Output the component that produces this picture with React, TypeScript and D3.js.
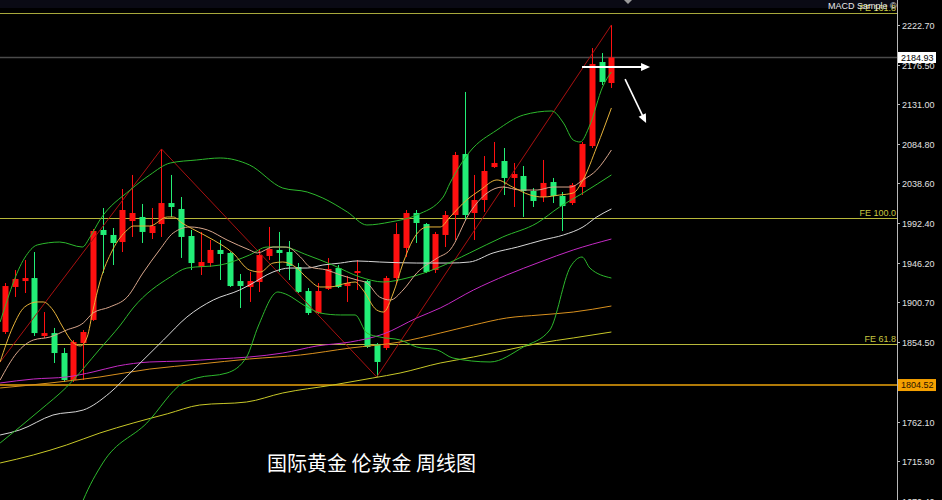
import React from 'react';
import * as d3 from 'd3';

const W = 942;
const H = 500;

// Weekly candles (price units)
const opens = [1866.1,1918.4,1925.3,1928.8,1861.5,1864.9,1841.7,1810.4,1853.3,1880.1,1984.6,1978.8,1970.6,1995.0,1999.7,1981.1,1991.5,2015.9,2009.0,1977.6,1941.6,1946.2,1961.4,1957.9,1925.3,1918.4,1924.2,1954.4,1961.4,1959.0,1941.6,1913.7,1888.2,1916.1,1940.4,1919.5,1934.6,1925.3,1852.2,1847.5,1928.8,1963.7,2004.3,1991.5,1938.1,1978.8,2002.0,2072.8,2004.3,2019.4,2057.7,2064.7,2045.0,2047.3,2029.9,2022.9,2040.3,2024.1,2015.9,2034.5,2082.1,2179.7,2155.3];
const highs = [1923.0,1938.1,1949.7,1959.0,1889.3,1870.8,1847.5,1856.8,1868.4,1985.7,2010.1,1986.9,2032.2,2048.5,2014.8,2010.1,2078.7,2048.5,2022.9,1984.6,1982.3,1973.0,1973.0,1959.0,1933.5,1935.8,1962.5,1988.1,1982.3,1971.8,1946.2,1917.2,1923.0,1952.0,1943.9,1931.2,1949.7,1926.5,1853.3,1931.2,1992.7,2007.8,2007.8,1992.7,1982.3,2006.6,2075.2,2144.9,2048.5,2070.5,2086.8,2079.8,2062.4,2058.9,2033.3,2065.9,2045.0,2028.7,2039.2,2086.8,2195.9,2190.1,2222.7];
const lows = [1863.8,1906.8,1911.4,1861.5,1859.2,1830.1,1808.0,1808.0,1810.4,1878.9,1934.6,1943.9,1959.0,1976.5,1969.5,1974.1,1976.5,1999.7,1952.1,1938.1,1932.3,1941.6,1926.5,1918.4,1894.0,1901.0,1912.6,1949.7,1935.8,1926.5,1911.4,1885.9,1887.0,1914.9,1917.2,1901.0,1914.9,1847.5,1813.9,1845.2,1923.0,1953.2,1969.5,1934.6,1934.6,1964.8,1973.0,1996.2,1973.0,2005.5,2056.6,2025.2,2011.3,1999.7,2011.3,2017.1,2015.9,1983.4,2013.6,2025.2,2079.8,2153.0,2149.5];
const closes = [1919.5,1927.7,1928.8,1864.9,1864.9,1841.7,1810.4,1854.5,1866.1,1983.4,1978.8,1969.5,2007.8,2004.3,1982.3,1989.2,2015.9,2011.3,1976.5,1946.2,1947.4,1961.4,1956.7,1919.5,1919.5,1925.3,1955.5,1962.5,1957.9,1942.8,1912.6,1888.2,1913.7,1939.3,1918.4,1923.0,1936.9,1848.7,1831.3,1928.8,1979.9,2004.3,1992.7,1935.8,1979.9,2002.0,2071.7,2002.0,2019.4,2053.1,2062.4,2045.0,2049.6,2029.9,2018.3,2039.2,2024.1,2012.4,2036.8,2084.5,2177.4,2156.5,2184.93];

// Indicator lines: [week index, price]
const ma5: [number, number][] = [[-0.5,1831.3],[0.8,1871.9],[2.0,1895.1],[3.3,1901.0],[3.9,1901.0],[4.9,1891.7],[5.9,1871.9],[6.9,1854.5],[7.7,1849.9],[8.4,1860.3],[9.0,1891.7],[9.7,1924.2],[11.0,1961.4],[12.5,1984.6],[13.1,1989.2],[14.8,1989.2],[16.6,1999.7],[17.2,1999.7],[18.1,1992.7],[19.2,1985.7],[21.3,1973.0],[23.3,1957.9],[25.0,1938.1],[26.1,1935.8],[27.4,1946.2],[28.4,1947.4],[29.7,1941.6],[30.9,1928.8],[32.2,1918.4],[33.2,1918.4],[35.0,1923.0],[35.8,1924.2],[36.6,1914.9],[38.0,1891.7],[38.7,1889.3],[39.7,1911.4],[40.7,1946.2],[41.7,1973.0],[43.2,1988.1],[44.5,1988.1],[45.5,1999.7],[47.2,2019.4],[48.6,2031.0],[50.3,2042.7],[51.9,2034.5],[53.7,2025.2],[55.0,2022.9],[56.7,2025.2],[58.1,2027.6],[59.1,2042.7],[60.5,2081.0],[62.0,2126.3]];
const ma10: [number, number][] = [[-0.5,1810.4],[1.2,1841.7],[2.9,1856.8],[4.6,1860.3],[6.3,1868.4],[8.0,1876.6],[9.0,1888.2],[10.7,1895.1],[12.5,1906.8],[14.1,1934.6],[15.8,1961.4],[17.2,1981.1],[18.9,1988.1],[20.7,1984.6],[22.7,1973.0],[25.0,1961.4],[25.8,1957.9],[27.4,1964.8],[28.8,1964.8],[30.2,1953.2],[31.2,1941.6],[32.9,1938.1],[34.3,1932.3],[36.0,1926.5],[37.0,1923.0],[38.3,1906.8],[39.4,1903.3],[40.7,1914.9],[42.1,1934.6],[44.2,1952.0],[45.5,1961.4],[47.5,2004.3],[49.3,2027.6],[50.9,2034.5],[52.7,2031.0],[54.4,2031.0],[56.0,2034.5],[57.8,2034.5],[59.1,2042.7],[60.5,2054.3],[62.0,2077.5]];
const bbUpper: [number, number][] = [[-0.5,1877.7],[2.0,1952.0],[3.3,1967.2],[5.6,1970.6],[7.9,1964.8],[8.7,1976.5],[9.7,1996.2],[12.8,2031.0],[14.8,2048.5],[16.9,2062.4],[19.6,2065.9],[22.0,2068.2],[25.0,2060.1],[28.4,2033.3],[30.9,2028.7],[32.5,2021.7],[35.0,2005.5],[37.0,1990.4],[39.4,1993.9],[42.1,2002.0],[44.8,2022.9],[45.5,2039.2],[47.5,2075.2],[50.3,2100.7],[53.0,2118.1],[55.9,2122.8],[57.1,2108.8],[58.1,2089.1],[58.8,2086.8],[59.8,2106.5],[61.1,2150.7],[62.0,2168.1]];
const bbMiddle: [number, number][] = [[-0.5,1737.2],[3.6,1775.5],[6.3,1802.2],[9.7,1846.4],[11.8,1874.2],[13.1,1894.0],[16.9,1930.0],[18.6,1940.4],[22.0,1943.9],[25.0,1955.5],[26.8,1964.8],[28.4,1964.8],[30.9,1955.5],[33.5,1943.9],[36.3,1930.0],[38.7,1924.2],[41.1,1928.8],[44.2,1940.4],[47.5,1957.9],[50.9,1976.5],[54.4,1992.7],[56.7,2011.3],[59.1,2027.6],[62.0,2048.5]];
const bbLower: [number, number][] = [[7.2,1647.8],[8.0,1671.0],[10.0,1714.0],[14.5,1760.4],[18.2,1806.9],[19.6,1812.7],[22.7,1818.5],[24.7,1837.1],[25.9,1873.1],[27.9,1912.6],[28.4,1911.4],[30.9,1895.1],[32.2,1888.2],[34.3,1885.9],[35.8,1885.9],[37.0,1864.9],[38.3,1860.3],[40.4,1856.8],[42.1,1848.7],[44.2,1845.2],[45.8,1835.9],[49.6,1831.3],[53.0,1848.7],[55.7,1868.4],[57.8,1941.6],[59.0,1953.2],[59.8,1940.4],[62.0,1928.8]];
const maWhite: [number, number][] = [[-0.5,1746.5],[1.5,1752.3],[4.9,1769.7],[8.0,1775.5],[10.7,1795.3],[13.1,1822.0],[16.2,1856.8],[18.6,1883.5],[21.3,1903.3],[24.0,1914.9],[25.0,1920.7],[27.4,1935.8],[29.1,1940.4],[30.9,1940.4],[32.5,1943.9],[34.3,1946.2],[36.0,1948.6],[38.3,1947.4],[42.1,1946.2],[45.5,1946.2],[47.5,1947.4],[49.9,1957.9],[52.4,1964.8],[55.0,1973.0],[57.1,1978.8],[59.1,1988.1],[60.5,1999.7],[62.0,2009.0]];
const maMagenta: [number, number][] = [[-0.5,1806.9],[2.9,1811.5],[6.3,1813.9],[9.0,1819.7],[11.5,1826.6],[14.8,1831.3],[18.2,1832.4],[21.7,1834.8],[25.0,1837.1],[28.4,1841.7],[31.9,1849.9],[35.3,1854.5],[38.7,1863.8],[42.1,1882.4],[44.5,1894.0],[47.9,1914.9],[51.3,1932.3],[54.7,1947.4],[58.1,1961.4],[62.0,1974.1]];
const maOrange: [number, number][] = [[-0.5,1801.1],[4.6,1806.9],[9.7,1813.9],[14.8,1823.1],[19.9,1828.9],[25.0,1834.8],[30.2,1839.4],[35.3,1847.5],[40.4,1854.5],[44.5,1864.9],[47.9,1874.2],[51.3,1882.4],[54.7,1885.9],[58.1,1889.3],[62.0,1896.3]];
const maYellow: [number, number][] = [[-0.5,1714.0],[2.9,1723.3],[6.3,1734.9],[9.7,1748.8],[13.1,1760.4],[16.6,1771.1],[19.9,1781.3],[24.7,1784.8],[28.4,1795.3],[33.5,1804.5],[37.6,1812.7],[40.4,1818.5],[44.5,1830.1],[47.9,1837.1],[51.3,1845.2],[54.7,1853.3],[58.1,1859.2],[62.0,1866.1]];
const zigzag: [number, number][] = [[-0.55,1830.5],[16,2078.7],[38,1813.9],[62,2222.7]];

// Horizontal levels
const feLabels = ['FE 161.8', 'FE 100.0', 'FE 61.8'];
const feValues = [2236.4, 1998.6, 1852.0];
const currentPrice = 2184.93;
const supportPrice = 1804.52;

// Axis tick labels
const tickLabels = ['2222.70','2176.50','2131.00','2084.80','2038.60','1992.40','1946.20','1900.70','1854.50','1808.30','1762.10','1715.90','1670.40'];

const title = '国际黄金 伦敦金 周线图';

export default function App() {
  const plotRight = 897;
  const x = d3.scaleLinear().domain([0, 62]).range([5, 611.4]);
  const y = d3.scaleLinear().domain([1671.0, 2251.7]).range([H, 0]);
  const line = d3.line<[number, number]>().x(d => x(d[0])).y(d => y(d[1])).curve(d3.curveMonotoneX);
  const lineStraight = d3.line<[number, number]>().x(d => x(d[0])).y(d => y(d[1]));

  const bw = 6;
  const axisFont = '"Liberation Sans", Arial, sans-serif';

  const lines: { data: [number, number][]; color: string; w?: number }[] = [
    { data: maYellow, color: '#c8c828' },
    { data: maOrange, color: '#d8901e' },
    { data: maMagenta, color: '#c42ac4' },
    { data: maWhite, color: '#d6d6d6' },
    { data: bbLower, color: '#2db82d' },
    { data: bbMiddle, color: '#2db82d' },
    { data: bbUpper, color: '#2db82d' },
    { data: ma10, color: '#d8a68c' },
    { data: ma5, color: '#e6b23a' },
  ];

  // arrows in data coordinates
  const arrowH = { x1: 59.0, x2: 65.95, p: 2173.9 };
  const arrowD = { x1: 63.4, p1: 2159.9, x2: 65.55, p2: 2108.8 };
  const ax2 = x(arrowD.x2), ay2 = y(arrowD.p2), ax1 = x(arrowD.x1), ay1 = y(arrowD.p1);
  const ang = Math.atan2(ay2 - ay1, ax2 - ax1);
  const hl = 9, hw = 4;
  const headD = [
    [ax2, ay2],
    [ax2 - hl * Math.cos(ang) + hw * Math.sin(ang), ay2 - hl * Math.sin(ang) - hw * Math.cos(ang)],
    [ax2 - hl * Math.cos(ang) - hw * Math.sin(ang), ay2 - hl * Math.sin(ang) + hw * Math.cos(ang)],
  ].map(p => p.join(',')).join(' ');
  const hx2 = x(arrowH.x2), hy = y(arrowH.p);

  return (
    <div style={{ position: 'absolute', left: 0, top: 0 }}>
      <svg width={W} height={H} style={{ display: 'block', background: '#000' }}>
        <rect x={0} y={0} width={W} height={H} fill="#000" />
        <rect x={0} y={0} width={plotRight} height={8} fill="#0a0a14" />
        <g>
          {/* horizontal levels */}
          {feValues.map((v, i) => (
            <line key={'fe' + i} x1={0} x2={plotRight} y1={Math.round(y(v)) + 0.5} y2={Math.round(y(v)) + 0.5} stroke={i === 0 ? '#a8a83c' : '#b8b83a'} strokeWidth={1.2} />
          ))}
          <line x1={0} x2={plotRight} y1={y(currentPrice)} y2={y(currentPrice)} stroke="#4a4a4a" strokeWidth={1.6} />
          <line x1={0} x2={plotRight} y1={y(supportPrice)} y2={y(supportPrice)} stroke="#b07a08" strokeWidth={2} />
        </g>
        <g>
          {closes.map((c, i) => {
            const o = opens[i];
            const up = c >= o;
            const col = up ? '#ff1010' : '#22ee77';
            const cx = Math.round(x(i));
            const top = y(Math.max(o, c));
            const bot = y(Math.min(o, c));
            return (
              <g key={i}>
                <line x1={cx + 0.5} x2={cx + 0.5} y1={y(highs[i])} y2={y(lows[i])} stroke={col} strokeWidth={1} />
                <rect x={cx - bw / 2 + 0.5} y={top} width={bw} height={Math.max(1, bot - top)} fill={col} />
              </g>
            );
          })}
        </g>
        <path d={lineStraight(zigzag) || ''} fill="none" stroke="#a81010" strokeWidth={1} />
        <g>
          {lines.map((l, i) => (
            <path key={i} d={line(l.data) || ''} fill="none" stroke={l.color} strokeWidth={l.w || 1} />
          ))}
        </g>
        {/* arrows */}
        <line x1={x(arrowH.x1)} x2={hx2 - 6} y1={hy} y2={hy} stroke="#fff" strokeWidth={2} />
        <polygon points={`${hx2},${hy} ${hx2 - 9},${hy - 4} ${hx2 - 9},${hy + 4}`} fill="#fff" />
        <line x1={ax1} y1={ay1} x2={ax2 - 6 * Math.cos(ang)} y2={ay2 - 6 * Math.sin(ang)} stroke="#fff" strokeWidth={1.6} />
        <polygon points={headD} fill="#fff" />
        <polygon points="624,0 632,0 628,4" fill="#9a9a9a" />

        {/* FE labels */}
        <text x={plotRight - 1} y={y(feValues[0]) - 2} textAnchor="end" fontFamily={axisFont} fontSize={9} fill="#c8c840">{feLabels[0]}</text>
        <text x={plotRight - 69} y={9} textAnchor="start" fontFamily={axisFont} fontSize={9} fill="#e8e8e8">MACD Sample ©</text>
        <text x={plotRight - 1} y={y(feValues[1]) - 2} textAnchor="end" fontFamily={axisFont} fontSize={9} fill="#c8c840">{feLabels[1]}</text>
        <text x={plotRight - 1} y={y(feValues[2]) - 2} textAnchor="end" fontFamily={axisFont} fontSize={9} fill="#c8c840">{feLabels[2]}</text>

        {/* right axis */}
        <line x1={plotRight + 0.5} x2={plotRight + 0.5} y1={0} y2={H} stroke="#b8b8b8" strokeWidth={1} />
        {tickLabels.map((t, i) => {
          const yy = Math.round(y(+t)) + 0.5;
          return (
            <g key={t}>
              <line x1={plotRight} x2={plotRight + 3} y1={yy} y2={yy} stroke="#b8b8b8" />
              <text x={plotRight + 5} y={yy} dy="0.35em" fontFamily={axisFont} fontSize={9} fill="#e0e0e0">{t}</text>
            </g>
          );
        })}
        <rect x={plotRight + 1} y={y(currentPrice) - 5.5} width={38} height={11} fill="#ffffff" />
        <text x={plotRight + 4} y={y(currentPrice)} dy="0.35em" fontFamily={axisFont} fontSize={9} fill="#000">{currentPrice.toFixed(2)}</text>
        <rect x={plotRight + 1} y={y(supportPrice) - 6} width={38} height={12} fill="#f5a000" />
        <text x={plotRight + 4} y={y(supportPrice)} dy="0.35em" fontFamily={axisFont} fontSize={9} fill="#2a1400">{supportPrice.toFixed(2)}</text>

        {/* title */}
        <text x={267} y={471} fontFamily={'"Noto Sans CJK SC", sans-serif'} fontSize={20} fill="#ffffff">{title}</text>
      </svg>
    </div>
  );
}
